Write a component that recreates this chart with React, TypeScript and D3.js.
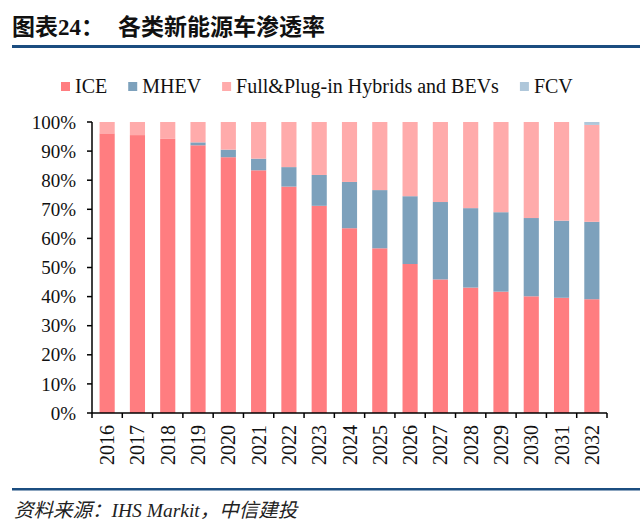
import React, { useEffect, useRef } from 'react';
import * as d3 from 'd3';

const years = ['2016', '2017', '2018', '2019', '2020', '2021', '2022', '2023', '2024', '2025', '2026', '2027', '2028', '2029', '2030', '2031', '2032'];
const ice = [96.1, 95.5, 94.2, 92.0, 87.9, 83.4, 77.8, 71.2, 63.5, 56.6, 51.2, 45.9, 43.1, 41.7, 40.1, 39.6, 39.1];
const mhev = [0, 0, 0, 1.0, 2.6, 4.0, 6.7, 10.6, 15.9, 20.0, 23.3, 26.6, 27.3, 27.3, 26.9, 26.5, 26.6];
const fcv = [0, 0, 0, 0, 0, 0, 0, 0, 0, 0, 0, 0, 0, 0, 0, 0, 1.0];
// full hybrids + BEVs fill the rest up to 100%
const fullBev = years.map((_, i) => +(100 - ice[i] - mhev[i] - fcv[i]).toFixed(1));

const seriesNames = ['ICE', 'MHEV', 'Full&Plug-in Hybrids and BEVs', 'FCV'];
const seriesColors = ['#FF7D80', '#7DA1BC', '#FFABAB', '#AFC7DA'];
const yTicks = [0, 10, 20, 30, 40, 50, 60, 70, 80, 90, 100];

const serif = '"Liberation Serif", "Times New Roman", serif';
const cjk = '"Liberation Serif", "Noto Sans CJK SC", sans-serif';

const App: React.FC = () => {
  const svgRef = useRef<SVGSVGElement>(null);

  useEffect(() => {
    if (!svgRef.current) return;
    const svg = d3.select(svgRef.current);
    svg.selectAll('*').remove();

    const width = 640;
    const height = 526;
    const left = 92;
    const right = 607;
    const top = 122;
    const bottom = 413;

    svg.attr('width', width).attr('height', height);

    // Header
    svg
      .append('text')
      .attr('x', 12)
      .attr('y', 35)
      .style('font-family', cjk)
      .style('font-weight', 'bold')
      .style('font-size', '23px')
      .style('fill', '#111')
      .text('图表24：');
    svg
      .append('text')
      .attr('x', 118)
      .attr('y', 35)
      .style('font-family', cjk)
      .style('font-weight', 'bold')
      .style('font-size', '23px')
      .style('fill', '#111')
      .text('各类新能源车渗透率');
    svg
      .append('rect')
      .attr('x', 12)
      .attr('y', 45)
      .attr('width', width - 12)
      .attr('height', 3)
      .attr('fill', '#1B4D80');

    // Data rows for stacking
    const rows = years.map((year, i) => ({
      year,
      ICE: ice[i],
      MHEV: mhev[i],
      'Full&Plug-in Hybrids and BEVs': fullBev[i],
      FCV: fcv[i],
    }));
    const stacked = d3.stack<any>().keys(seriesNames)(rows);

    const x = d3.scaleBand<string>().domain(years).range([left, right]).paddingInner(0.5).paddingOuter(0.25);
    const y = d3.scaleLinear().domain([0, 100]).range([bottom, top]);
    const color = d3.scaleOrdinal<string>().domain(seriesNames).range(seriesColors);

    // Bars
    const layers = svg
      .selectAll('.layer')
      .data(stacked)
      .enter()
      .append('g')
      .attr('class', 'layer')
      .attr('fill', (d) => color(d.key));
    layers
      .selectAll('rect')
      .data((d) => d)
      .enter()
      .append('rect')
      .attr('x', (d) => x(d.data.year) as number)
      .attr('width', x.bandwidth())
      .attr('y', (d) => y(d[1]))
      .attr('height', (d) => Math.max(0, y(d[0]) - y(d[1])));

    // Y axis
    svg
      .append('line')
      .attr('x1', left)
      .attr('x2', left)
      .attr('y1', top)
      .attr('y2', bottom)
      .attr('stroke', '#000')
      .attr('stroke-width', 1.5);
    const yt = svg.selectAll('.ytick').data(yTicks).enter().append('g').attr('class', 'ytick');
    yt.append('line')
      .attr('x1', left - 5)
      .attr('x2', left)
      .attr('y1', (d) => y(d))
      .attr('y2', (d) => y(d))
      .attr('stroke', '#000')
      .attr('stroke-width', 1.5);
    yt.append('text')
      .attr('x', left - 16)
      .attr('y', (d) => y(d))
      .attr('dy', '0.35em')
      .attr('text-anchor', 'end')
      .style('font-family', serif)
      .style('font-size', '19px')
      .style('fill', '#111')
      .text((d) => `${d}%`);

    // X axis
    svg
      .append('line')
      .attr('x1', left)
      .attr('x2', right)
      .attr('y1', bottom)
      .attr('y2', bottom)
      .attr('stroke', '#000')
      .attr('stroke-width', 1.5);
    const step = x.step();
    const bounds = d3.range(years.length + 1).map((i) => left + i * step);
    svg
      .selectAll('.xtick')
      .data(bounds)
      .enter()
      .append('line')
      .attr('x1', (d) => d)
      .attr('x2', (d) => d)
      .attr('y1', bottom)
      .attr('y2', bottom + 5)
      .attr('stroke', '#000')
      .attr('stroke-width', 1.5);
    svg
      .selectAll('.xlabel')
      .data(years)
      .enter()
      .append('text')
      .attr('transform', (d) => `translate(${(x(d) as number) + x.bandwidth() / 2},${bottom + 12}) rotate(-90)`)
      .attr('dy', '0.35em')
      .attr('text-anchor', 'end')
      .style('font-family', serif)
      .style('font-size', '20px')
      .style('fill', '#111')
      .text((d) => d);

    // Legend
    let lx = 61;
    seriesNames.forEach((name) => {
      svg
        .append('rect')
        .attr('x', lx)
        .attr('y', 82)
        .attr('width', 9)
        .attr('height', 9)
        .attr('fill', color(name));
      const t = svg
        .append('text')
        .attr('x', lx + 14)
        .attr('y', 93)
        .style('font-family', serif)
        .style('font-size', '20px')
        .style('fill', '#111')
        .text(name);
      const w = (t.node() as SVGTextElement).getComputedTextLength();
      lx += 14 + w + 21;
    });

    // Footer
    svg
      .append('rect')
      .attr('x', 12)
      .attr('y', 488)
      .attr('width', width - 12)
      .attr('height', 2.5)
      .attr('fill', '#1B4D80');
    svg
      .append('text')
      .attr('x', 14)
      .attr('y', 517)
      .style('font-family', cjk)
      .style('font-style', 'italic')
      .style('font-size', '19.5px')
      .style('fill', '#222')
      .text('资料来源：IHS Markit，中信建投');
  }, []);

  return (
    <div style={{ position: 'absolute', left: 0, top: 0, width: 640, height: 526, background: '#fff' }}>
      <svg ref={svgRef} style={{ display: 'block' }} />
    </div>
  );
};

export default App;
